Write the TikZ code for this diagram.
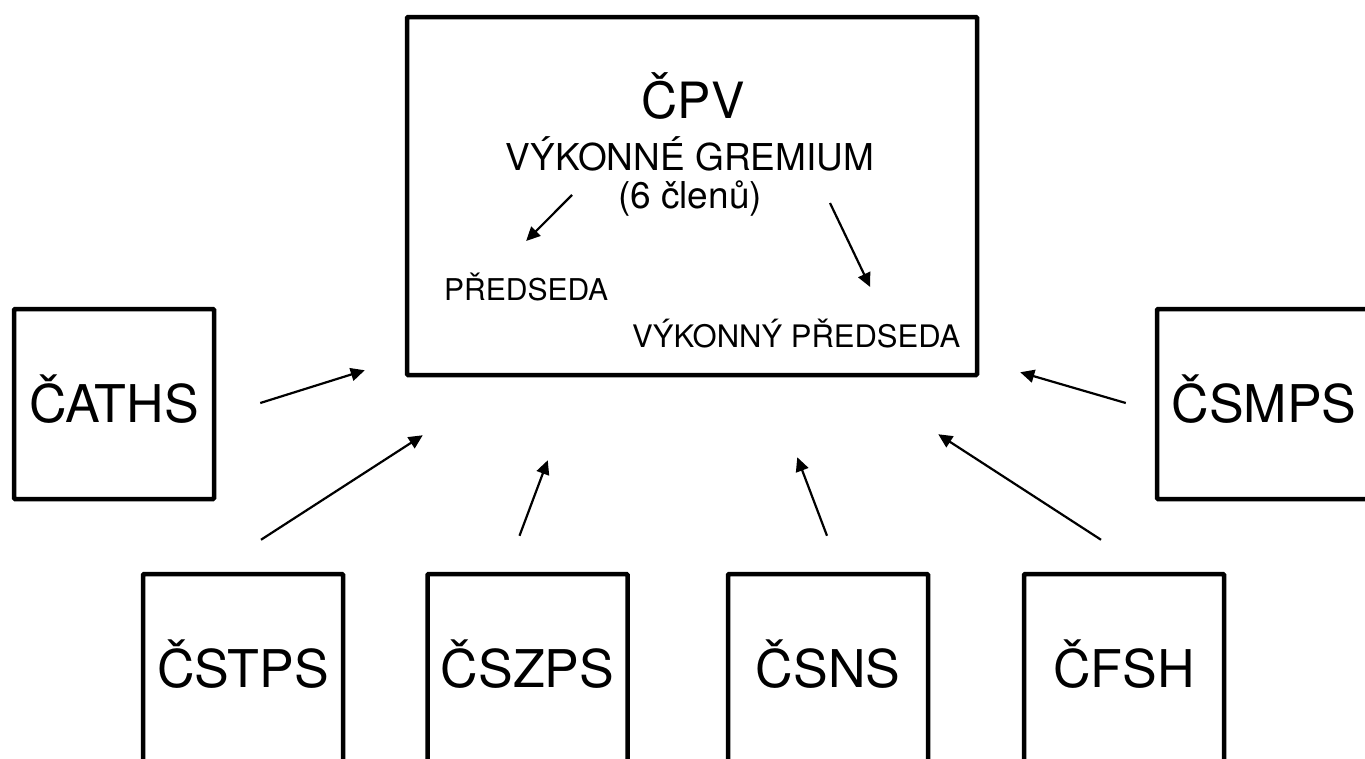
\documentclass[tikz,border=0pt]{standalone}
\usepackage{fontspec}
\setmainfont{TeX Gyre Heros}
\usetikzlibrary{arrows.meta,calc}
\tikzset{
  ramec/.style={draw,line width=4.5pt,rounded corners=1pt,inner sep=0pt},
  clen/.style={ramec,minimum width=200pt,minimum height=190pt,text height=36pt,text depth=0pt,font=\fontsize{52}{60}\selectfont},
  popis/.style={anchor=base,inner sep=0pt},
  sipka/.style={line width=2.2pt,-{Triangle[length=14pt,width=13pt]}}
}
\begin{document}
\begin{tikzpicture}[x=1pt,y=-1pt]
        \useasboundingbox (0,0) rectangle (1365,758);
        \clip (0,0) rectangle (1365,758);
        %Gremium
            \node[ramec,minimum width=570pt,minimum height=358pt] (cpv) at (692,196) {};
            \node[popis,font=\fontsize{50}{58}\selectfont] (nazev) at (693,118) {ČPV};
            \node[popis,font=\fontsize{37}{44}\selectfont] (gremium) at (690,170) {VÝKONNÉ GREMIUM};
            \node[popis,font=\fontsize{37}{44}\selectfont] (pocet) at (690,208) {(6 členů)};
            \node[popis,anchor=base west,font=\fontsize{30}{36}\selectfont] (predseda) at (444,300) {PŘEDSEDA};
            \node[popis,anchor=base west,font=\fontsize{31}{37}\selectfont] (vykpred) at (632,347) {VÝKONNÝ PŘEDSEDA};
            \draw[sipka] ($(pocet.base)+(-118,-13)$)--($(predseda.base)+(0,-59)$);
            \draw[sipka] ($(pocet.base)+(140,-5)$)--($(vykpred.base)+(74,-60)$);
        %Svazy po stranach
            \node[clen] (caths) at (114,404) {ČATHS};
            \node[clen,minimum width=214pt] (csmps) at (1264,404) {ČSMPS};
        %Svazy dole
        \foreach \n/\t/\x in{
        cstps/ČSTPS/243, cszps/ČSZPS/527.5, csns/ČSNS/828, cfsh/ČFSH/1124
        }{\node[clen] (\n) at (\x,669) {\t};}
        %Sipky
            \draw[sipka] ($(caths.east)+(44,-1)$)--($(cpv.south west)+(-40,-7)$);
            \draw[sipka] ($(cstps.north)+(18,-32)$)--($(cpv.south west)+(18,58)$);
            \draw[sipka] ($(cszps.north)+(-8,-36)$)--($(cpv.south west)+(143,83)$);
            \draw[sipka] ($(csns.north)+(-1,-36)$)--($(cpv.south east)+(-182,80)$);
            \draw[sipka] ($(cfsh.north)+(-23,-32)$)--($(cpv.south east)+(-41,57)$);
            \draw[sipka] ($(csmps.west)+(-29,-1)$)--($(cpv.south east)+(41,-5)$);
\end{tikzpicture}
\end{document}
